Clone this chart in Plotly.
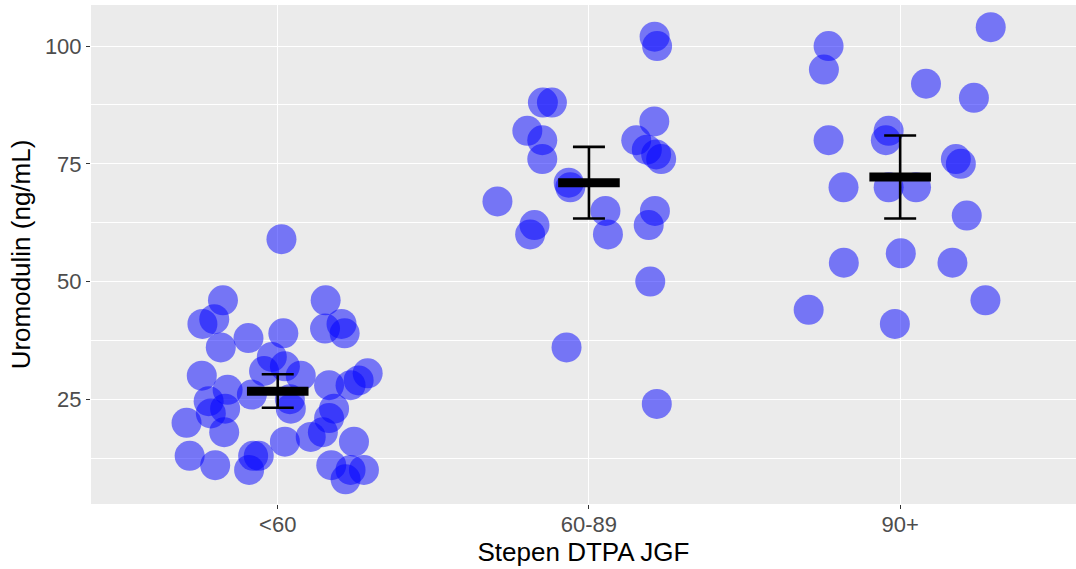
import plotly.graph_objects as go

# Eksperimentalne grupe prema stepenu DTPA JGF
categories = ["<60", "60-89", "90+"]

# <60: horizontalni pomak (jitter) i vrednost uromodulina
g1_jitter = [0.012, -0.176, 0.154, -0.242, -0.204, 0.152, 0.205, 0.215, -0.094, 0.018,
             -0.183, -0.019, -0.044, 0.023, 0.074, -0.244, 0.289, 0.260, 0.165, 0.234,
             -0.161, -0.083, -0.222, -0.169, -0.215, -0.293, -0.172, -0.283, -0.201, -0.079,
             -0.061, -0.092, 0.042, 0.039, 0.023, 0.106, 0.145, 0.181, 0.165, 0.245,
             0.172, 0.234, 0.277, 0.218]
g1_values = [59, 46, 46, 41, 42, 40, 41, 39, 38, 39,
             36, 34, 31, 32, 30, 30, 30.5, 29, 28, 28,
             27, 26, 24.6, 23, 22, 20, 18, 13, 11, 13,
             13, 10, 23, 25, 16, 17, 18, 23, 21, 16,
             11, 10, 10, 8]

# 60-89
g2_jitter = [0.211, 0.219, -0.148, -0.119, -0.198, -0.150, 0.210, 0.152, 0.186, 0.232,
             0.216, -0.150, -0.060, -0.065, -0.294, 0.053, 0.212, -0.175, -0.189, 0.061,
             0.192, 0.197, -0.072, 0.218]
g2_values = [102, 100, 88, 88, 82, 80, 84, 80, 78, 76,
             77, 76, 70, 71, 67, 65, 65, 62, 60, 60,
             62, 50, 36, 24]

# 90+
g3_jitter = [0.291, -0.230, -0.245, 0.083, 0.237, -0.230, -0.037, -0.046, 0.179, 0.195,
             -0.182, -0.037, 0.051, 0.214, -0.181, 0.002, 0.168, -0.294, 0.274, -0.017]
g3_values = [104, 100, 95, 92, 89, 80, 82, 80, 76, 75,
             70, 70, 70, 64, 54, 56, 54, 44, 46, 41]

# Srednja vrednost i 95% interval poverenja po grupi
group_mean = [26.7, 71.0, 72.2]
ci_low = [23.2, 63.4, 63.4]
ci_high = [30.3, 78.6, 81.0]

FONT = "Liberation Sans, Arial, Helvetica, sans-serif"

xs, ys = [], []
for pos, (jit, vals) in enumerate(
        [(g1_jitter, g1_values), (g2_jitter, g2_values), (g3_jitter, g3_values)], start=1):
    xs += [pos + j for j in jit]
    ys += vals

fig = go.Figure()

fig.add_trace(go.Scatter(
    x=xs, y=ys, mode="markers",
    marker=dict(size=30, color="rgba(0,0,255,0.5)", line=dict(width=0)),
    hoverinfo="y", showlegend=False,
))

positions = list(range(1, len(categories) + 1))
fig.add_trace(go.Scatter(
    x=positions, y=group_mean, mode="markers",
    marker=dict(symbol="line-ew", size=44, line=dict(width=9, color="black")),
    error_y=dict(
        type="data", symmetric=False,
        array=[h - m for h, m in zip(ci_high, group_mean)],
        arrayminus=[m - l for m, l in zip(group_mean, ci_low)],
        color="black", thickness=2.6, width=16,
    ),
    showlegend=False,
))

fig.update_layout(
    width=1076, height=569,
    margin=dict(l=91, r=0, t=5, b=65),
    paper_bgcolor="white",
    plot_bgcolor="#EBEBEB",
    font=dict(family=FONT, color="black"),
    xaxis=dict(
        range=[0.4, 3.565],
        tickmode="array", tickvals=positions, ticktext=categories,
        showgrid=True, gridcolor="white", gridwidth=1.2,
        zeroline=False, showline=False,
        ticks="outside", ticklen=4, tickcolor="#333333", tickwidth=1,
        ticklabelstandoff=-3,
        tickfont=dict(size=22, color="#4D4D4D", family=FONT),
        title=dict(text="Stepen DTPA JGF", font=dict(size=26, color="black", family=FONT),
                   standoff=1),
    ),
    yaxis=dict(
        range=[2.76, 108.72],
        tickmode="array", tickvals=[25, 50, 75, 100],
        showgrid=True, gridcolor="white", gridwidth=1.2,
        minor=dict(tickvals=[12.5, 37.5, 62.5, 87.5], showgrid=True,
                   gridcolor="white", gridwidth=0.6, ticks=""),
        zeroline=False, showline=False,
        ticks="outside", ticklen=4, tickcolor="#333333", tickwidth=1,
        tickfont=dict(size=22, color="#4D4D4D", family=FONT),
        title=dict(text="Uromodulin (ng/mL)", font=dict(size=26, color="black", family=FONT),
                   standoff=6),
    ),
)

fig.write_html("out.html")
